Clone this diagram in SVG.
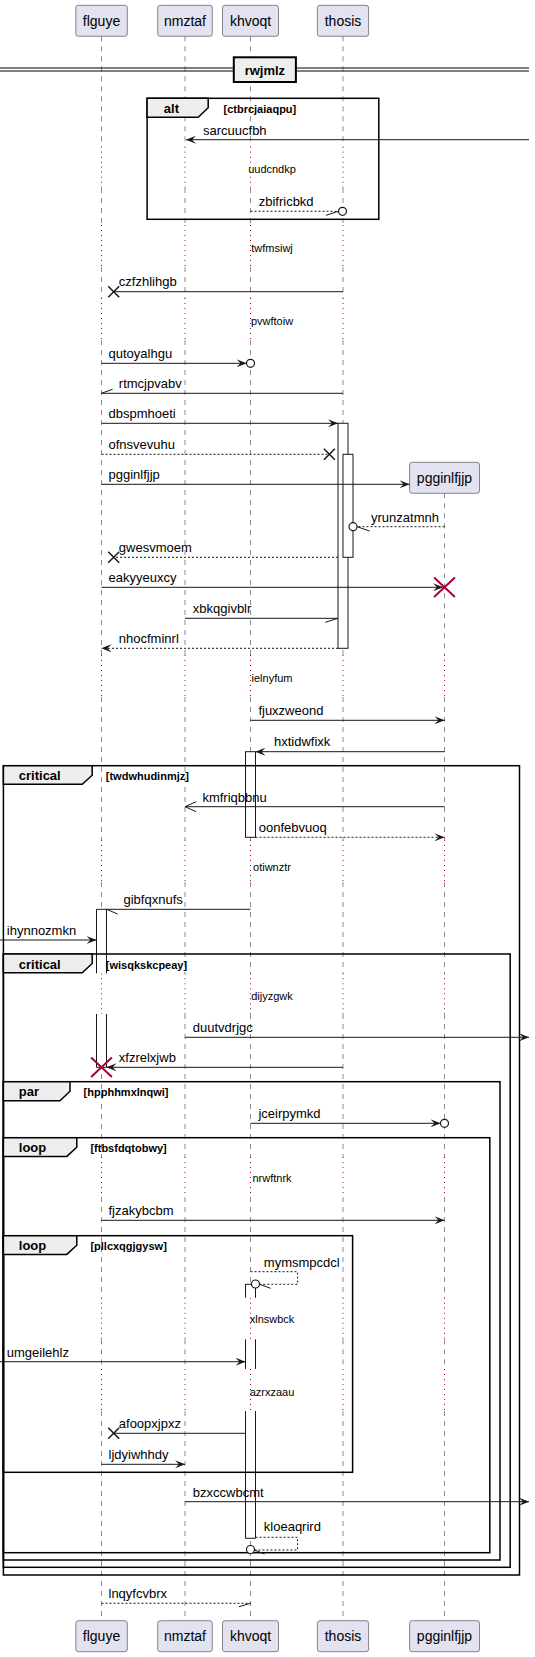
<svg xmlns="http://www.w3.org/2000/svg" width="535" height="1657" viewBox="0 0 535 1657">
<defs>
<style>
text{font-family:"Liberation Sans",Arial,sans-serif;fill:#000}
.p{fill:#E2E2F0;stroke:#181818;stroke-width:0.5}
.pt{font-size:14px;text-anchor:middle}
.ll{fill:none;stroke:#181818;stroke-width:0.5;stroke-dasharray:5,5}
.dl{fill:none;stroke:#A80036;stroke-width:1;stroke-dasharray:1,4}
.act{fill:#FFFFFF;stroke:#181818;stroke-width:1}
.acts{fill:none;stroke:#181818;stroke-width:1}
.fr{fill:none;stroke:#000;stroke-width:1.5}
.tab{fill:#EEEEEE;stroke:#000;stroke-width:1.5}
.gh{font-size:13px;font-weight:bold}
.gc{font-size:11px;font-weight:bold}
.dt{font-size:11px;text-anchor:middle}
.m{fill:none;stroke:#181818;stroke-width:1}
.md{fill:none;stroke:#181818;stroke-width:1;stroke-dasharray:2,2}
.mt{font-size:13px}
.x{fill:none;stroke:#181818;stroke-width:1.5}
.rx{fill:none;stroke:#A80036;stroke-width:2}
.c{fill:#FFFFFF;stroke:#181818;stroke-width:1.2}
.fa{fill:#181818;stroke:#181818;stroke-width:1}
</style>
<marker id="af" viewBox="0 0 10 8" refX="10" refY="4" markerWidth="10" markerHeight="8" markerUnits="userSpaceOnUse" orient="auto">
<path d="M0,0 L10,4 L0,8 L4,4 Z" fill="#181818"/>
</marker>
</defs>

<g id="lifelines">
<path class="ll" d="M101.5,36.3V146.7M101.5,188V225M101.5,267V298M101.5,340V655M101.5,697V840M101.5,882V973.3M101.5,1014V1157M101.5,1197V1297.7M101.5,1339.3V1369M101.5,1411V1620.7"/>
<path class="ll" d="M185,36.3V146.7M185,188V225M185,267V298M185,340V655M185,697V840M185,882V973.3M185,1014V1157M185,1197V1297.7M185,1339.3V1369M185,1411V1620.7"/>
<path class="ll" d="M250.5,36.3V146.7M250.5,188V225M250.5,267V298M250.5,340V655M250.5,697V840M250.5,882V973.3M250.5,1014V1157M250.5,1197V1297.7M250.5,1339.3V1369M250.5,1411V1620.7"/>
<path class="ll" d="M343,36.3V146.7M343,188V225M343,267V298M343,340V655M343,697V840M343,882V973.3M343,1014V1157M343,1197V1297.7M343,1339.3V1369M343,1411V1620.7"/>
<path class="ll" d="M444.5,493.3V655M444.5,697V840M444.5,882V973.3M444.5,1014V1157M444.5,1197V1297.7M444.5,1339.3V1369M444.5,1411V1620.7"/>
<path class="dl" d="M101.5,146.7V188M185,146.7V188M250.5,146.7V188M343,146.7V188"/>
<path class="dl" d="M101.5,225V267M185,225V267M250.5,225V267M343,225V267"/>
<path class="dl" d="M101.5,298V340M185,298V340M250.5,298V340M343,298V340"/>
<path class="dl" d="M101.5,655V697M185,655V697M250.5,655V697M343,655V697M444.5,655V697"/>
<path class="dl" d="M101.5,840V882M185,840V882M250.5,840V882M343,840V882M444.5,840V882"/>
<path class="dl" d="M101.5,973.3V1014M185,973.3V1014M250.5,973.3V1014M343,973.3V1014M444.5,973.3V1014"/>
<path class="dl" d="M101.5,1157V1197M185,1157V1197M250.5,1157V1197M343,1157V1197M444.5,1157V1197"/>
<path class="dl" d="M101.5,1297.7V1339.3M185,1297.7V1339.3M250.5,1297.7V1339.3M343,1297.7V1339.3M444.5,1297.7V1339.3"/>
<path class="dl" d="M101.5,1369V1411M185,1369V1411M250.5,1369V1411M343,1369V1411M444.5,1369V1411"/>
</g>

<g id="flguye">
<rect class="p" x="75.8" y="5.3" width="51.5" height="31" rx="2.5"/>
<text class="pt" x="101.5" y="26">flguye</text>
<rect class="p" x="75.8" y="1620.7" width="51.5" height="31" rx="2.5"/>
<text class="pt" x="101.5" y="1641.4">flguye</text>
</g>
<g id="nmztaf">
<rect class="p" x="157.7" y="5.3" width="54.6" height="31" rx="2.5"/>
<text class="pt" x="185" y="26">nmztaf</text>
<rect class="p" x="157.7" y="1620.7" width="54.6" height="31" rx="2.5"/>
<text class="pt" x="185" y="1641.4">nmztaf</text>
</g>
<g id="khvoqt">
<rect class="p" x="222.5" y="5.3" width="56" height="31" rx="2.5"/>
<text class="pt" x="250.5" y="26">khvoqt</text>
<rect class="p" x="222.5" y="1620.7" width="56" height="31" rx="2.5"/>
<text class="pt" x="250.5" y="1641.4">khvoqt</text>
</g>
<g id="thosis">
<rect class="p" x="317.4" y="5.3" width="51.2" height="31" rx="2.5"/>
<text class="pt" x="343" y="26">thosis</text>
<rect class="p" x="317.4" y="1620.7" width="51.2" height="31" rx="2.5"/>
<text class="pt" x="343" y="1641.4">thosis</text>
</g>
<g id="pgginlfjjp">
<rect class="p" x="409.6" y="462.3" width="69.9" height="31" rx="2.5"/>
<text class="pt" x="444.5" y="483">pgginlfjjp</text>
<rect class="p" x="409.6" y="1620.7" width="69.9" height="31" rx="2.5"/>
<text class="pt" x="444.5" y="1641.4">pgginlfjjp</text>
</g>

<g id="activations">
<rect class="act" x="338" y="423.3" width="10" height="225"/>
<rect class="act" x="343" y="454.3" width="10" height="103"/>
<rect class="act" x="245.5" y="751.7" width="10" height="85.6"/>
<rect x="96.5" y="909.3" width="10" height="64" fill="#fff"/>
<path class="acts" d="M96.5,973.3V909.3H106.5V973.3"/>
<rect x="96.5" y="1014" width="10" height="53.3" fill="#fff"/>
<path class="acts" d="M96.5,1014V1067.3H106.5V1014"/>
<rect x="245.5" y="1284.3" width="10" height="13.4" fill="#fff"/>
<path class="acts" d="M245.5,1297.7V1284.3H255.5V1297.7"/>
<rect x="245.5" y="1339.3" width="10" height="29.7" fill="#fff"/>
<path class="acts" d="M245.5,1339.3V1369M255.5,1339.3V1369"/>
<rect x="245.5" y="1411" width="10" height="127.3" fill="#fff"/>
<path class="acts" d="M245.5,1411V1538.3H255.5V1411"/>
</g>

<g id="divider">
<line x1="0" y1="68" x2="529" y2="68" stroke="#000" stroke-width="1"/>
<line x1="0" y1="71" x2="529" y2="71" stroke="#000" stroke-width="1"/>
<rect x="233.8" y="57.3" width="62.1" height="24.7" fill="#EEEEEE" stroke="#000" stroke-width="2"/>
<text class="gh" x="264.9" y="74.5" text-anchor="middle">rwjmlz</text>
</g>

<g id="frames">
<g id="alt1">
<rect class="fr" x="147.1" y="98.3" width="231.7" height="121"/>
<path class="tab" d="M147.1,98.3H208.2V107.8L198.2,117.3H147.1Z"/>
<text class="gh" x="163.8" y="113">alt</text>
<text class="gc" x="223.5" y="113">[ctbrcjaiaqpu]</text>
</g>
<g id="critical1">
<rect class="fr" x="3.4" y="765.7" width="516.1" height="809.3"/>
<path class="tab" d="M3.4,765.7H92.2V775.2L82.2,784.3H3.4Z"/>
<text class="gh" x="18.8" y="780.4">critical</text>
<text class="gc" x="105.8" y="780.4">[twdwhudinmjz]</text>
</g>
<g id="critical2">
<rect class="fr" x="3.4" y="954" width="506.8" height="613.3"/>
<path class="tab" d="M3.4,954H92.2V963.5L82.2,972.7H3.4Z"/>
<text class="gh" x="18.8" y="968.7">critical</text>
<text class="gc" x="105.8" y="968.7">[wisqkskcpeay]</text>
</g>
<g id="par1">
<rect class="fr" x="3.4" y="1081.7" width="496.6" height="478.3"/>
<path class="tab" d="M3.4,1081.7H70V1091.2L60,1100.7H3.4Z"/>
<text class="gh" x="18.8" y="1096.4">par</text>
<text class="gc" x="83.6" y="1096.4">[hpphhmxlnqwi]</text>
</g>
<g id="loop1">
<rect class="fr" x="3.4" y="1137.7" width="486.4" height="415"/>
<path class="tab" d="M3.4,1137.7H76.8V1147.2L66.8,1156.4H3.4Z"/>
<text class="gh" x="18.8" y="1152.4">loop</text>
<text class="gc" x="90.4" y="1152.4">[ftbsfdqtobwy]</text>
</g>
<g id="loop2">
<rect class="fr" x="3.4" y="1235.7" width="349.2" height="236.6"/>
<path class="tab" d="M3.4,1235.7H76.8V1245.2L66.8,1254.4H3.4Z"/>
<text class="gh" x="18.8" y="1250.4">loop</text>
<text class="gc" x="90.4" y="1250.4">[pllcxqgjgysw]</text>
</g>
</g>

<g id="delays">
<text class="dt" x="272" y="173">uudcndkp</text>
<text class="dt" x="272" y="251.5">twfmsiwj</text>
<text class="dt" x="272" y="324.5">pvwftoiw</text>
<text class="dt" x="272" y="682">ielnyfum</text>
<text class="dt" x="272" y="870.5">otiwnztr</text>
<text class="dt" x="272" y="999.5">dijyzgwk</text>
<text class="dt" x="272" y="1182">nrwftnrk</text>
<text class="dt" x="272" y="1323">xlnswbck</text>
<text class="dt" x="272" y="1395.5">azrxzaau</text>
</g>

<g id="connectors">
<line class="m" x1="529" y1="139.7" x2="186" y2="139.7" marker-end="url(#af)"/>
<text class="mt" x="203" y="134.7">sarcuucfbh</text>

<line class="md" x1="250.5" y1="211.3" x2="338.5" y2="211.3"/>
<line class="m" x1="326" y1="215.3" x2="338.5" y2="211.3"/>
<circle class="c" cx="342.5" cy="211.3" r="4"/>
<text class="mt" x="258.7" y="206">zbifricbkd</text>

<line class="m" x1="343" y1="291.7" x2="113.7" y2="291.7"/>
<path class="x" d="M108.2,286.2L119.2,297.2M108.2,297.2L119.2,286.2"/>
<text class="mt" x="118.8" y="286">czfzhlihgb</text>

<line class="m" x1="101.5" y1="363.3" x2="246.5" y2="363.3" marker-end="url(#af)"/>
<circle class="c" cx="250.5" cy="363.3" r="4"/>
<text class="mt" x="108.5" y="358">qutoyalhgu</text>

<line class="m" x1="343" y1="393.3" x2="101.5" y2="393.3"/>
<line class="m" x1="101.5" y1="393.3" x2="112.6" y2="389.3"/>
<text class="mt" x="118.8" y="388">rtmcjpvabv</text>

<line class="m" x1="101.5" y1="423.3" x2="338" y2="423.3" marker-end="url(#af)"/>
<text class="mt" x="108.5" y="418">dbspmhoeti</text>

<line class="md" x1="101.5" y1="454.3" x2="329.4" y2="454.3"/>
<path class="x" d="M323.9,448.8L334.9,459.8M323.9,459.8L334.9,448.8"/>
<text class="mt" x="108.5" y="449">ofnsvevuhu</text>

<line class="m" x1="101.5" y1="484.3" x2="409.6" y2="484.3" marker-end="url(#af)"/>
<text class="mt" x="108.5" y="479">pgginlfjjp</text>

<line class="md" x1="444.5" y1="526.7" x2="357" y2="526.7"/>
<line class="m" x1="357" y1="526.7" x2="369.6" y2="531"/>
<circle class="c" cx="353" cy="526.7" r="4"/>
<text class="mt" x="371" y="521.7">yrunzatmnh</text>

<line class="md" x1="338" y1="557.3" x2="113.7" y2="557.3"/>
<path class="x" d="M108.2,551.8L119.2,562.8M108.2,562.8L119.2,551.8"/>
<text class="mt" x="118.8" y="552">gwesvmoem</text>

<line class="m" x1="101.5" y1="587.3" x2="443" y2="587.3" marker-end="url(#af)"/>
<path class="rx" d="M434.1,577.6L454.9,597M434.1,597L454.9,577.6"/>
<text class="mt" x="108.5" y="582">eakyyeuxcy</text>

<line class="m" x1="185" y1="618.3" x2="338" y2="618.3"/>
<line class="m" x1="325.3" y1="622.3" x2="338" y2="618.3"/>
<text class="mt" x="192.8" y="613">xbkqgivblr</text>

<line class="md" x1="338" y1="648.3" x2="101.5" y2="648.3" marker-end="url(#af)"/>
<text class="mt" x="118.8" y="643">nhocfminrl</text>

<line class="m" x1="250.5" y1="720.3" x2="444.5" y2="720.3" marker-end="url(#af)"/>
<text class="mt" x="258.4" y="715">fjuxzweond</text>

<line class="m" x1="444.5" y1="751.7" x2="255.5" y2="751.7" marker-end="url(#af)"/>
<text class="mt" x="274" y="746">hxtidwfixk</text>

<line class="m" x1="444.5" y1="806.7" x2="185" y2="806.7"/>
<path class="m" d="M196.2,801.7L185,806.7L196.2,811.7"/>
<text class="mt" x="202.4" y="801.7">kmfriqbbnu</text>

<line class="md" x1="255.5" y1="837.3" x2="444.5" y2="837.3" marker-end="url(#af)"/>
<text class="mt" x="258.7" y="832">oonfebvuoq</text>

<line class="m" x1="250.5" y1="909.3" x2="106.5" y2="909.3"/>
<line class="m" x1="106.5" y1="909.3" x2="117.7" y2="914"/>
<text class="mt" x="123.5" y="904">gibfqxnufs</text>

<line class="m" x1="0" y1="940" x2="96.5" y2="940" marker-end="url(#af)"/>
<text class="mt" x="6.8" y="935">ihynnozmkn</text>

<line class="m" x1="185" y1="1037.3" x2="529" y2="1037.3" marker-end="url(#af)"/>
<text class="mt" x="192.8" y="1032">duutvdrjgc</text>

<line class="m" x1="343" y1="1067.3" x2="106.5" y2="1067.3" marker-end="url(#af)"/>
<path class="rx" d="M91.1,1057.6L111.9,1077M91.1,1077L111.9,1057.6"/>
<text class="mt" x="118.8" y="1062">xfzrelxjwb</text>

<line class="m" x1="250.5" y1="1123.3" x2="440.5" y2="1123.3" marker-end="url(#af)"/>
<circle class="c" cx="444.5" cy="1123.3" r="4"/>
<text class="mt" x="258.4" y="1118">jceirpymkd</text>

<line class="m" x1="101.5" y1="1220.3" x2="444.5" y2="1220.3" marker-end="url(#af)"/>
<text class="mt" x="108.5" y="1215">fjzakybcbm</text>

<path class="md" d="M250.5,1271.7H297.6V1284.3H259.5"/>
<line class="m" x1="259.5" y1="1284.3" x2="270.6" y2="1288.3"/>
<circle class="c" cx="255.5" cy="1284" r="4"/>
<text class="mt" x="263.8" y="1266.7">mymsmpcdcl</text>

<line class="m" x1="0" y1="1361.7" x2="245.5" y2="1361.7" marker-end="url(#af)"/>
<text class="mt" x="6.8" y="1356.7">umgeilehlz</text>

<line class="m" x1="245.5" y1="1433.3" x2="113.7" y2="1433.3"/>
<path class="x" d="M108.2,1427.8L119.2,1438.8M108.2,1438.8L119.2,1427.8"/>
<text class="mt" x="118.8" y="1428">afoopxjpxz</text>

<line class="m" x1="101.5" y1="1464.3" x2="185" y2="1464.3" marker-end="url(#af)"/>
<text class="mt" x="108.5" y="1459">ljdyiwhhdy</text>

<line class="m" x1="185" y1="1501.7" x2="529" y2="1501.7" marker-end="url(#af)"/>
<text class="mt" x="192.8" y="1496.7">bzxccwbcmt</text>

<path class="md" d="M255.5,1537.3H297.6V1550H254.5"/>
<line class="m" x1="254.5" y1="1550" x2="264.5" y2="1554"/>
<circle class="c" cx="250.5" cy="1549.5" r="4"/>
<text class="mt" x="263.8" y="1531">kloeaqrird</text>

<line class="md" x1="101.5" y1="1603.3" x2="250.5" y2="1603.3"/>
<line class="m" x1="239" y1="1606.7" x2="250.5" y2="1603.3"/>
<text class="mt" x="108.5" y="1598">lnqyfcvbrx</text>
</g>
</svg>
